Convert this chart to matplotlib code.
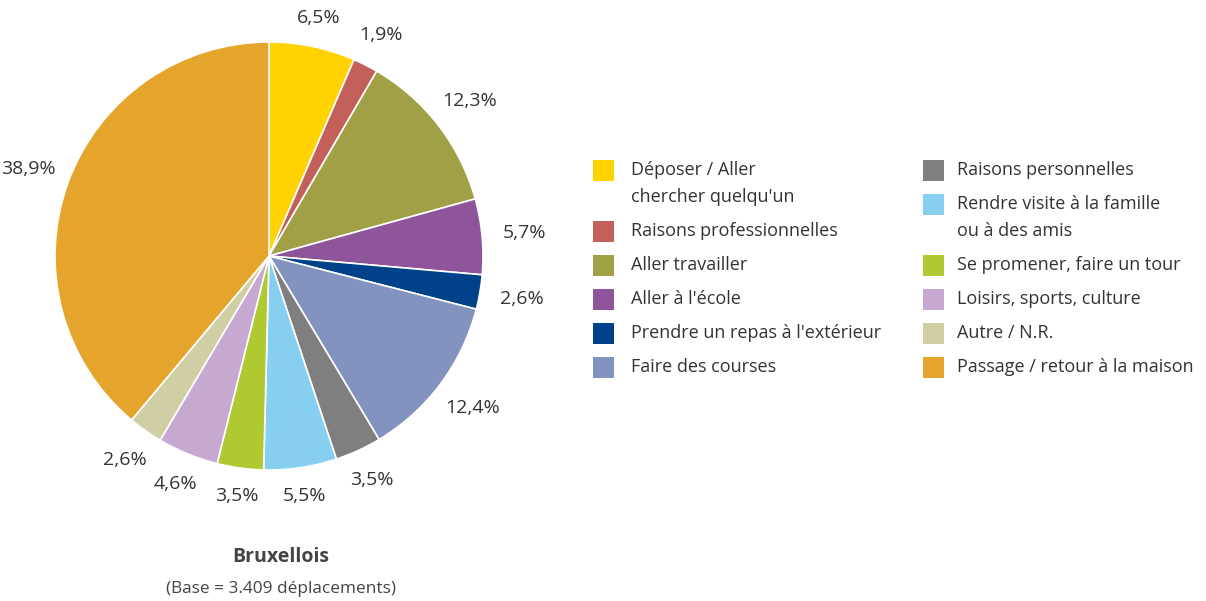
import matplotlib
matplotlib.use("Agg")
import numpy as np
import matplotlib.pyplot as plt
from matplotlib.patches import Rectangle

plt.rcParams['font.family'] = ['Open Sans', 'DejaVu Sans']

# data
categories = [
    "Déposer / Aller\nchercher quelqu'un",
    "Raisons professionnelles",
    "Aller travailler",
    "Aller à l'école",
    "Prendre un repas à l'extérieur",
    "Faire des courses",
    "Raisons personnelles",
    "Rendre visite à la famille\nou à des amis",
    "Se promener, faire un tour",
    "Loisirs, sports, culture",
    "Autre / N.R.",
    "Passage / retour à la maison",
]
values = [6.5, 1.9, 12.3, 5.7, 2.6, 12.4, 3.5, 5.5, 3.5, 4.6, 2.6, 38.9]
colors = ["#FFD200", "#C4605A", "#A2A046", "#8E559B", "#004289", "#8393BF",
          "#7F7F7F", "#86CFEF", "#AFC931", "#C6A8D0", "#CFCEA5", "#E5A52C"]
pct_labels = [f"{v:.1f}%".replace(".", ",") for v in values]
title = "Bruxellois"
subtitle = "(Base = 3.409 déplacements)"

W, H = 1206, 601
txt = "#333333"

fig = plt.figure(figsize=(W / 100, H / 100), dpi=100)
ax = fig.add_axes([0, 0, 1, 1])

def Y(py):
    return H - py

cx, cy, r = 269, Y(256), 214
wedges, _ = ax.pie(values, colors=colors, startangle=90, counterclock=False,
                   center=(cx, cy), radius=r,
                   wedgeprops=dict(edgecolor="white", linewidth=1.2))
ax.set_xlim(0, W)
ax.set_ylim(0, H)
ax.set_aspect("equal")
ax.axis("off")

# percentage labels around the pie
for w, lab in zip(wedges, pct_labels):
    ang = np.deg2rad((w.theta1 + w.theta2) / 2)
    d = r * (1.12 + 0.08 * abs(np.cos(ang)))
    ax.text(cx + d * np.cos(ang), cy + d * np.sin(ang), lab, ha="center",
            va="center", fontsize=14, color=txt)

ax.text(281, Y(557), title, ha="center", va="center", fontsize=14,
        fontweight="bold", color="#444444")
ax.text(281, Y(589), subtitle, ha="center", va="center", fontsize=12.4,
        color="#444444")

# legend, two columns drawn by hand
cols = [(593, 631), (923, 957)]
line_h = 27
gap = 34
sq = 21
for c in range(2):
    sx, tx = cols[c]
    y = 170
    for i in range(6 * c, 6 * c + 6):
        ax.add_patch(Rectangle((sx, Y(y) - sq / 2), sq, sq, facecolor=colors[i],
                               edgecolor="none"))
        lines = categories[i].split("\n")
        for k, line in enumerate(lines):
            ax.text(tx, Y(y + k * line_h), line, ha="left", va="center",
                    fontsize=13, color=txt)
        y += gap + (len(lines) - 1) * line_h

fig.savefig("out.png", dpi=100)
